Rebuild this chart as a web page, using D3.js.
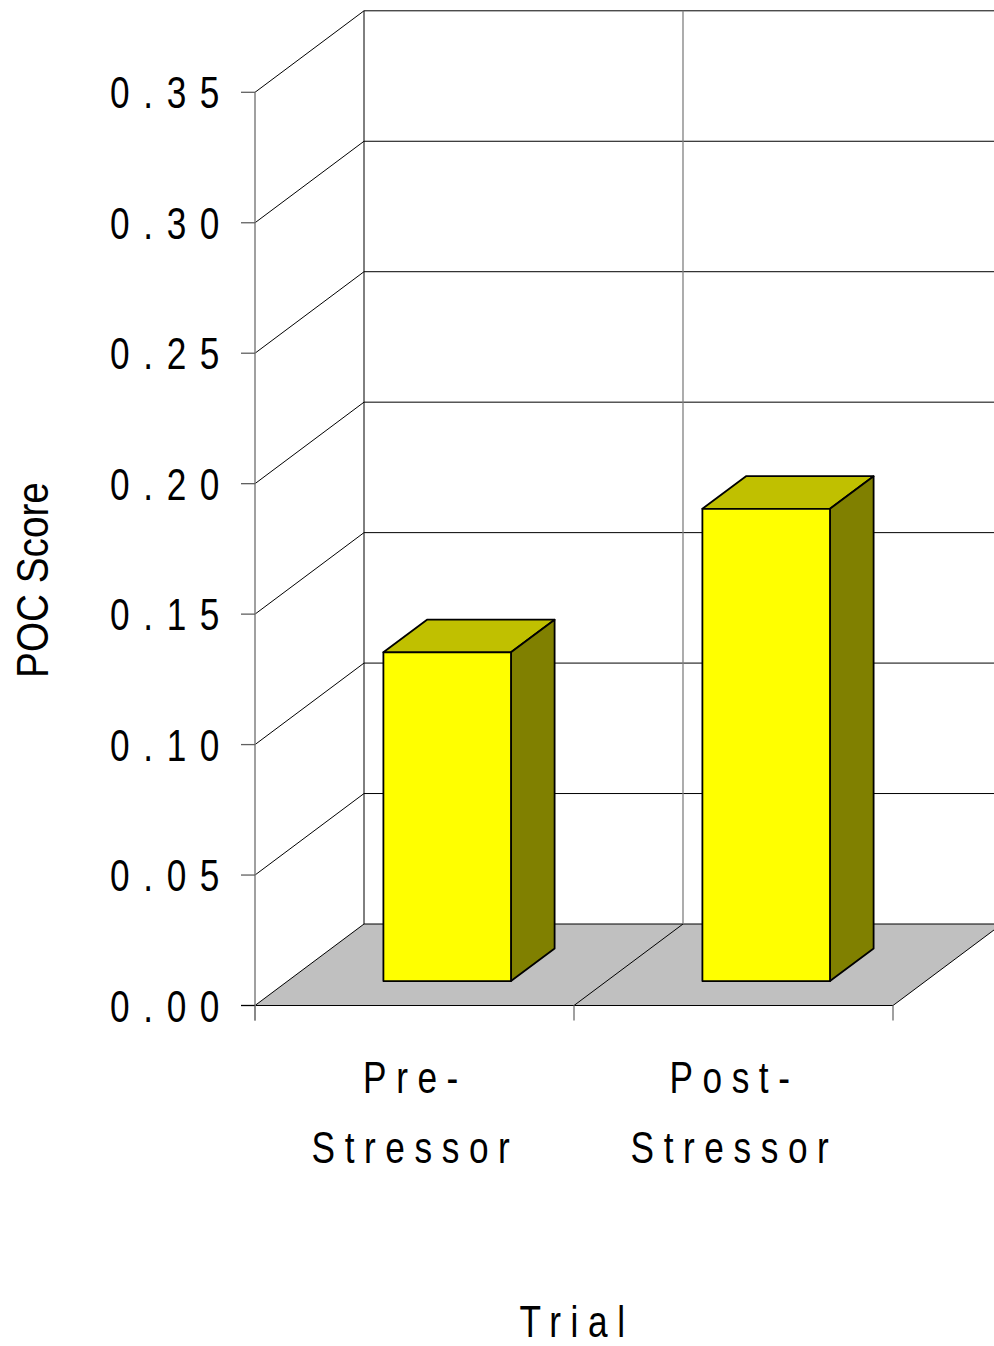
<!DOCTYPE html>
<html>
<head>
<meta charset="utf-8">
<script src="https://cdn.jsdelivr.net/npm/d3@7/dist/d3.min.js"></script>
<style>
  html, body { margin: 0; padding: 0; background: #ffffff; }
  svg { display: block; }
  text { font-family: "Liberation Sans", Arial, sans-serif; fill: #000; }
</style>
</head>
<body>
<div id="chart"></div>
<script>
// Mean POC score by trial
const categories = ["Pre-Stressor", "Post-Stressor"];
const categoryLines = [["Pre-", "Stressor"], ["Post-", "Stressor"]];
const pocScores = [0.126, 0.181];
const yTicks = [0.00, 0.05, 0.10, 0.15, 0.20, 0.25, 0.30, 0.35];
const yTickLabels = ["0.00", "0.05", "0.10", "0.15", "0.20", "0.25", "0.30", "0.35"];
const yAxisTitle = "POC Score";
const xAxisTitle = "Trial";

const W = 994, H = 1346;
const svg = d3.select("#chart").append("svg").attr("width", W).attr("height", H);

// front-plane scales
const y = d3.scaleLinear().domain([0, 0.35]).range([1005.5, 92.3]);
const x = d3.scaleBand().domain(categories).range([255, 893])
  .paddingInner(0.6).paddingOuter(0.3);

// oblique depth projection: z = 0 front plane, z = 1 back wall
const DX = 109, DY = 81.5;
const P = (px, py, z) => [px + z * DX, py - z * DY];
const xL = 255, xR = 893;
const wallRight = xR + DX + 20;

// floor
const floor = [P(xL, y(0), 0), P(xR, y(0), 0), P(xR, y(0), 1), P(xL, y(0), 1)];
svg.append("polygon").attr("points", floor.map(p => p.join(",")).join(" "))
  .attr("fill", "#c0c0c0").attr("stroke", "none");

const grid = svg.append("g").attr("fill", "none");

// side wall diagonals and back wall gridlines
yTicks.forEach(t => {
  const a = P(xL, y(t), 0), b = P(xL, y(t), 1);
  grid.append("line").attr("x1", a[0]).attr("y1", a[1]).attr("x2", b[0]).attr("y2", b[1])
    .attr("stroke", "#000").attr("stroke-width", 1);
  grid.append("line").attr("x1", b[0]).attr("y1", b[1]).attr("x2", wallRight).attr("y2", b[1])
    .attr("stroke", "#000").attr("stroke-width", 1);
});

// back wall verticals: left corner and category divider
const backLeft = P(xL, 0, 1)[0];
grid.append("line").attr("x1", backLeft).attr("x2", backLeft)
  .attr("y1", P(0, y(0.35), 1)[1]).attr("y2", P(0, y(0), 1)[1])
  .attr("stroke", "#000").attr("stroke-width", 1);
const divX = (x.range()[0] + x.range()[1]) / 2;
grid.append("line").attr("x1", divX + DX).attr("x2", divX + DX)
  .attr("y1", P(0, y(0.35), 1)[1]).attr("y2", P(0, y(0), 1)[1])
  .attr("stroke", "#808080").attr("stroke-width", 1.3);

// floor diagonals (category boundaries) and right edge
[divX, xR].forEach(px => {
  const a = P(px, y(0), 0), b = P(px, y(0), 1);
  grid.append("line").attr("x1", a[0]).attr("y1", a[1]).attr("x2", b[0]).attr("y2", b[1])
    .attr("stroke", "#000").attr("stroke-width", 1);
});

// front floor edge
grid.append("line").attr("x1", xL).attr("x2", xR).attr("y1", y(0)).attr("y2", y(0))
  .attr("stroke", "#000").attr("stroke-width", 1.2);

// value axis line and ticks
grid.append("line").attr("x1", xL).attr("x2", xL).attr("y1", y(0.35)).attr("y2", y(0) + 15)
  .attr("stroke", "#808080").attr("stroke-width", 1.5);
yTicks.forEach(t => {
  grid.append("line").attr("x1", xL - 14).attr("x2", xL).attr("y1", y(t)).attr("y2", y(t))
    .attr("stroke", t === 0 ? "#000" : "#606060").attr("stroke-width", 1.3);
});
// category ticks
[xL, divX, xR].forEach(px => {
  grid.append("line").attr("x1", px).attr("x2", px).attr("y1", y(0)).attr("y2", y(0) + 15)
    .attr("stroke", "#808080").attr("stroke-width", 1.5);
});

// 3D bars
const zF = 0.3, zB = 0.7;
const bars = svg.append("g").attr("stroke", "#000").attr("stroke-width", 1.8)
  .attr("stroke-linejoin", "round");
categories.forEach((c, i) => {
  const x0 = x(c), x1 = x(c) + x.bandwidth();
  const yT = y(pocScores[i]), yB = y(0);
  const poly = pts => pts.map(p => p.join(",")).join(" ");
  // top
  bars.append("polygon").attr("fill", "#c0c000")
    .attr("points", poly([P(x0, yT, zF), P(x1, yT, zF), P(x1, yT, zB), P(x0, yT, zB)]));
  // side
  bars.append("polygon").attr("fill", "#808000")
    .attr("points", poly([P(x1, yT, zF), P(x1, yT, zB), P(x1, yB, zB), P(x1, yB, zF)]));
  // front
  bars.append("polygon").attr("fill", "#ffff00")
    .attr("points", poly([P(x0, yT, zF), P(x1, yT, zF), P(x1, yB, zF), P(x0, yB, zF)]));
});

// narrow-style text helper
function label(parent, px, py, str, opts) {
  const g = parent.append("g")
    .attr("transform", `translate(${px},${py}) rotate(${opts.rotate || 0}) scale(${opts.sx},1)`);
  g.append("text").attr("x", 0).attr("y", 0)
    .attr("text-anchor", opts.anchor || "middle")
    .attr("font-size", opts.size)
    .style("letter-spacing", (opts.ls || 0) + "px")
    .text(str);
  return g;
}

// tick labels
yTicks.forEach((t, i) => {
  label(svg, 233, y(t) + 16, yTickLabels[i], { anchor: "end", size: 44, sx: 0.80, ls: 17 });
});

// category labels
categories.forEach((c, i) => {
  const cx = x(c) + x.bandwidth() / 2 + 1;
  label(svg, cx, 1093, categoryLines[i][0], { size: 44, sx: 0.80, ls: 12 });
  label(svg, cx, 1163, categoryLines[i][1], { size: 44, sx: 0.80, ls: 12 });
});

// axis titles
label(svg, divX + 3, 1337, xAxisTitle, { size: 44, sx: 0.80, ls: 12 });
label(svg, 48, 580, yAxisTitle, { size: 44, sx: 0.88, ls: 0, rotate: -90 });
</script>
</body>
</html>
